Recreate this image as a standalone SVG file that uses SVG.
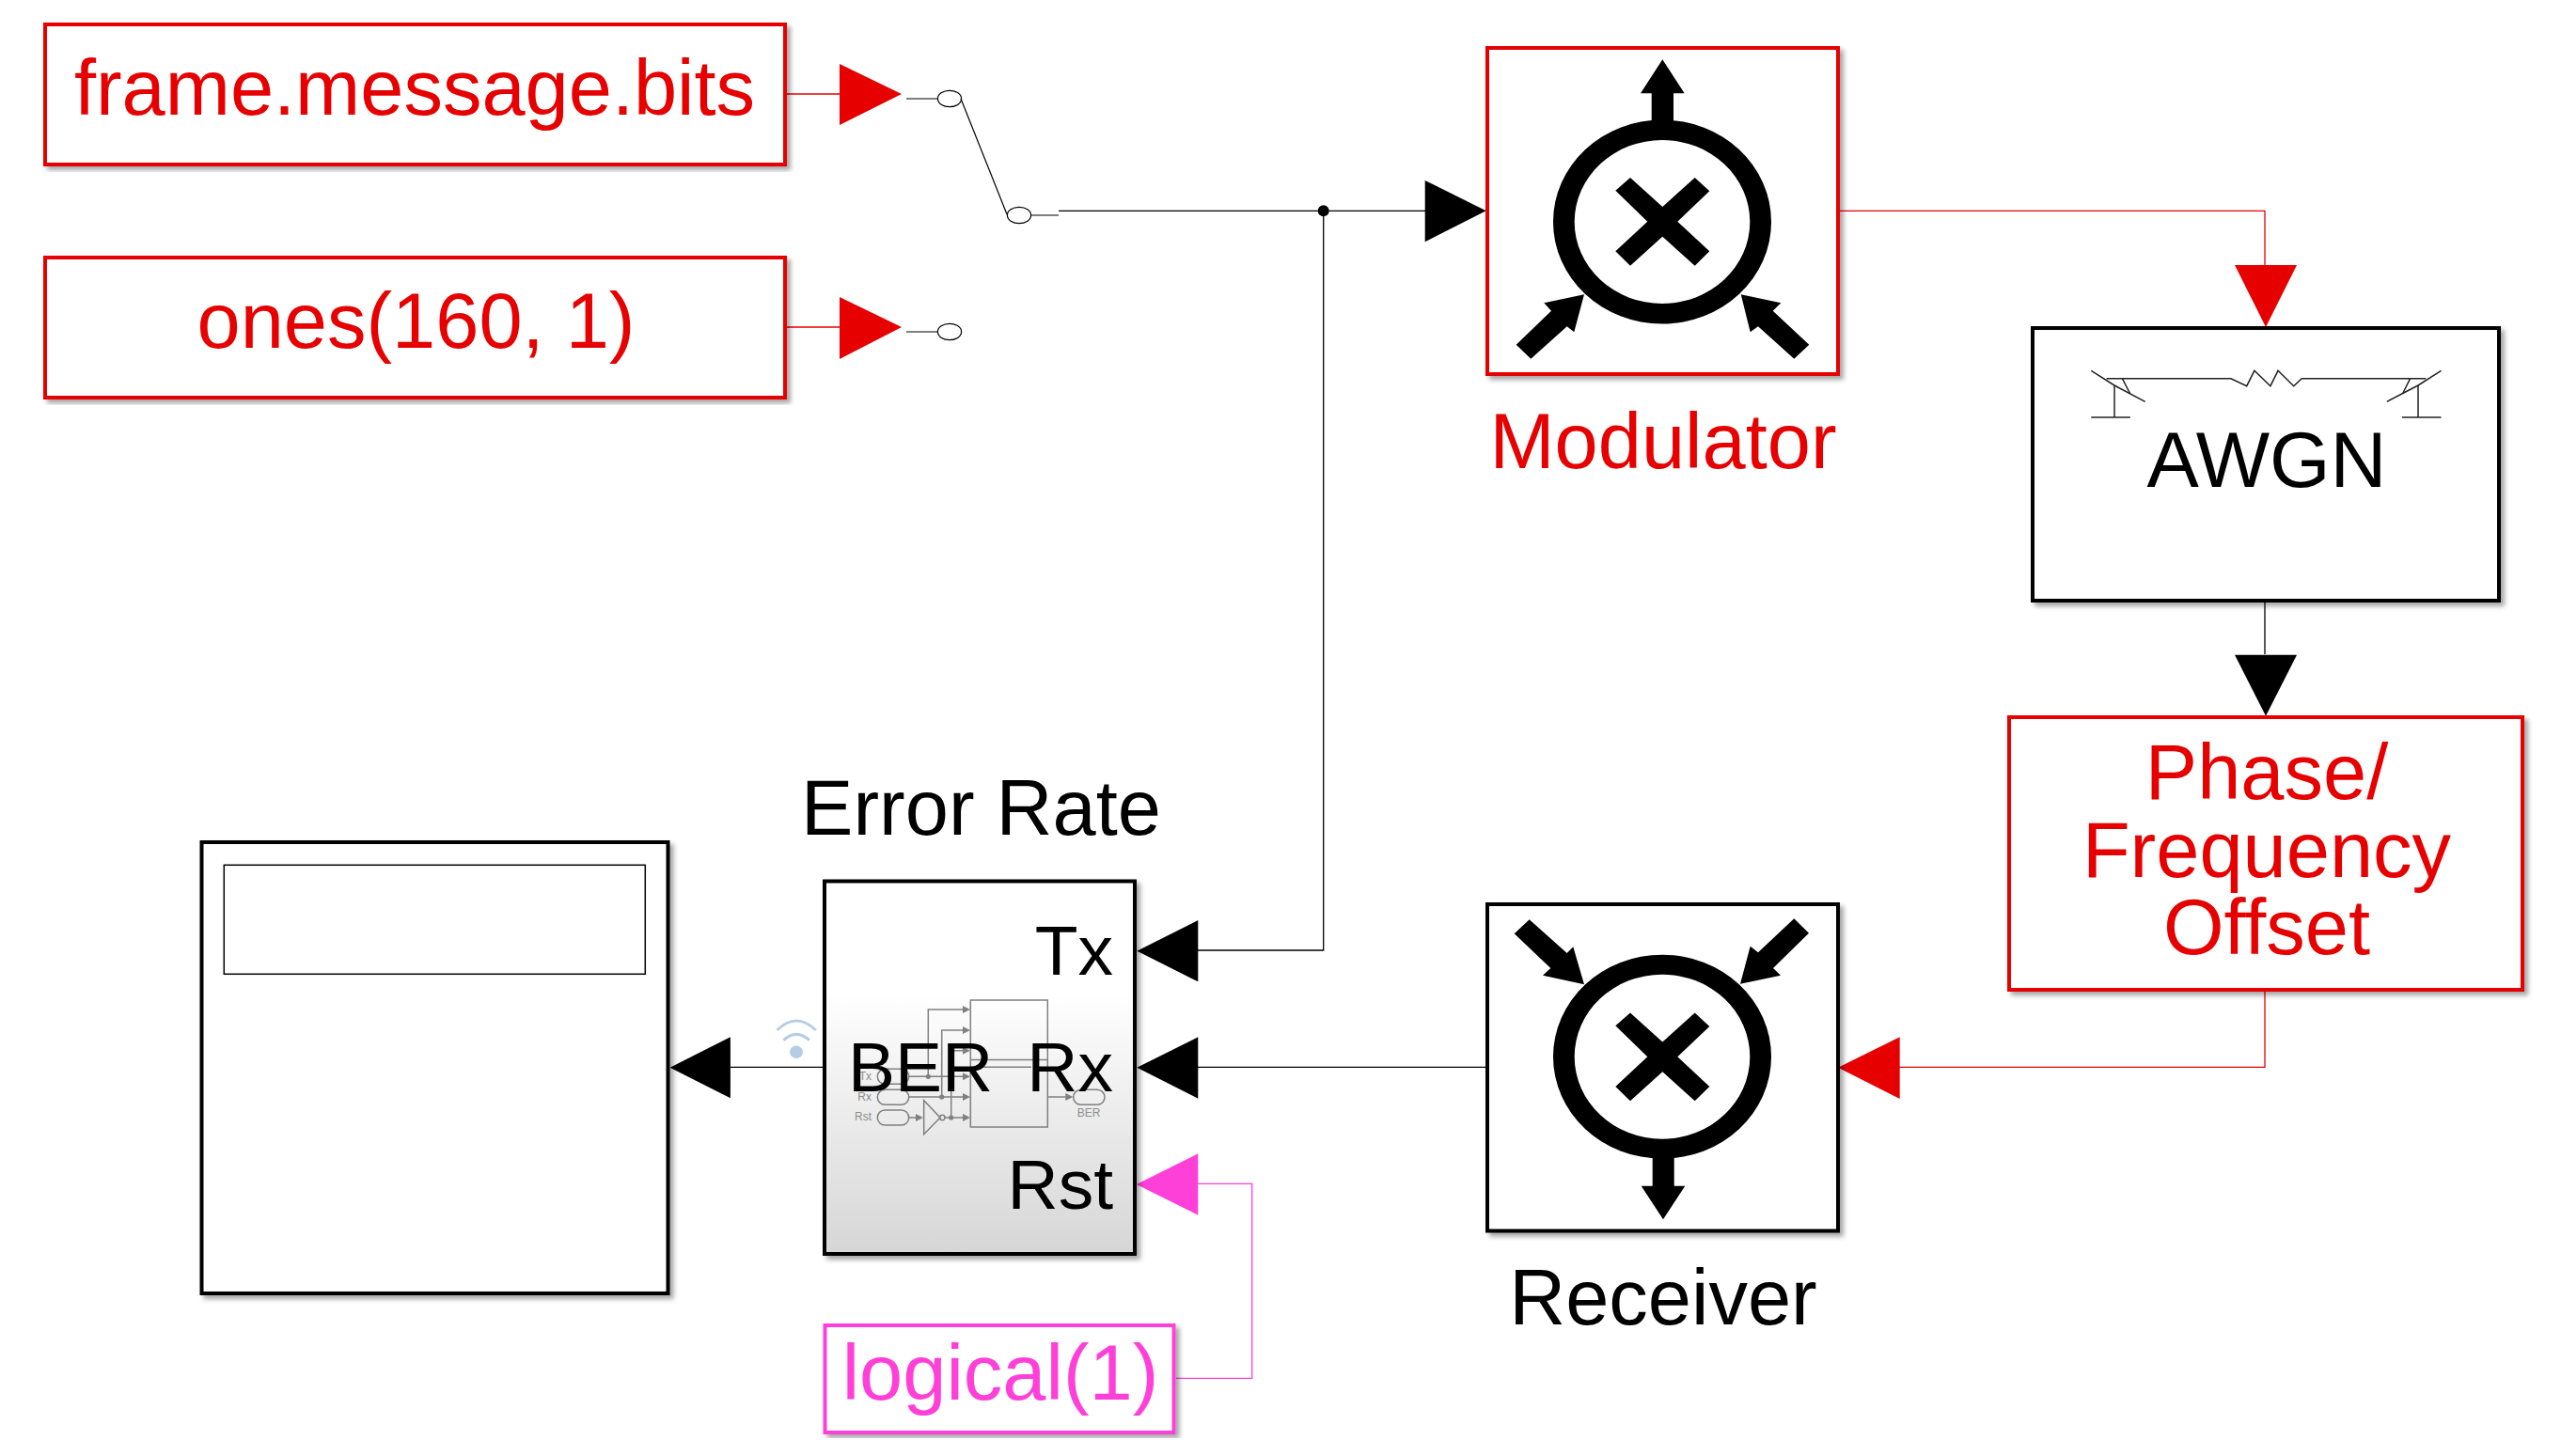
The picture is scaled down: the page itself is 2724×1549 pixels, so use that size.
<svg xmlns="http://www.w3.org/2000/svg" width="2724" height="1549" viewBox="0 0 2724 1549">
<style>
text{font-family:"Liberation Sans",Arial,sans-serif;font-size:83px;text-anchor:middle}
.k{fill:#000}.r{fill:#e60000}.p{fill:#ff40d8}
.port{font-size:75px;fill:#000}
.bk{fill:#fff;stroke:#000;stroke-width:4;filter:url(#sh)}
.br{fill:#fff;stroke:#e60000;stroke-width:4;filter:url(#sh)}
.bp{fill:#fff;stroke:#ff40d8;stroke-width:4;filter:url(#sh)}
.wk{fill:none;stroke:#000;stroke-width:1.3}
.wr{fill:none;stroke:#e60000;stroke-width:1.3}
.wp{fill:none;stroke:#ff40d8;stroke-width:1.3}
.g{fill:none;stroke:#808080;stroke-width:1.5}
.gf{fill:#808080;stroke:none}
.gt{font-size:12px;fill:#8c8c8c}
.ic{fill:none;stroke:#000;stroke-width:1.2}
.wf{fill:none;stroke:#b5cde4;stroke-width:3}
</style>
<defs>
<filter id="sh" x="-5%" y="-5%" width="110%" height="110%"><feDropShadow dx="4" dy="4" stdDeviation="2.5" flood-color="#000" flood-opacity="0.35"/></filter>
<linearGradient id="gr" x1="0" y1="0" x2="0" y2="1"><stop offset="0" stop-color="#fff"/><stop offset="0.3" stop-color="#fff"/><stop offset="1" stop-color="#d6d6d6"/></linearGradient>
</defs>

<g id="connectors">
<path class="wr" d="M836 100H893"/>
<path class="wr" d="M836 348H893"/>
<path class="wk" d="M1126 224.3H1516"/>
<path class="wk" d="M1407.7 224.3V1011H1274"/>
<path class="wr" d="M1957 224.3H2409V283"/>
<path class="wk" d="M2409 641V696"/>
<path class="wr" d="M2409 1055V1135.3H2020"/>
<path class="wk" d="M1580 1135.3H1274"/>
<path class="wk" d="M875 1135.3H777"/>
<path class="wp" d="M1251 1466.3H1331.7V1259.3H1274"/>
<circle cx="1407.7" cy="224.3" r="6" class="k"/>
<polygon class="r" points="893,68 959,100 893,133"/>
<polygon class="r" points="893,316 959,348 893,382"/>
<polygon class="k" points="1515.7,192 1580.7,224.3 1515.7,257.3"/>
<polygon class="r" points="2377,282 2443,282 2410,348"/>
<polygon class="k" points="2377,696.7 2443,696.7 2410,761.7"/>
<polygon class="r" points="2020.7,1103.3 2020.7,1169 1955,1135.7"/>
<polygon class="k" points="1274.3,979 1274.3,1044.3 1209.3,1011.7"/>
<polygon class="k" points="1274.3,1103.3 1274.3,1168.7 1209.3,1135.7"/>
<polygon class="p" points="1274.3,1227.3 1274.3,1292.7 1208.7,1260"/>
<polygon class="k" points="776.9,1103.3 776.9,1168.3 712.6,1135.7"/>
</g>

<g id="frame-message-bits">
<rect class="br" x="48" y="26" width="787" height="149"/>
<text class="r" x="441" y="121.5">frame.message.bits</text>
</g>

<g id="ones">
<rect class="br" x="48" y="274" width="787" height="149"/>
<text class="r" x="442.5" y="370">ones(160, 1)</text>
</g>

<g id="switch">
<path class="ic" d="M964 105H998M1022 105L1071 228M1097 229H1126M964 353H998"/>
<ellipse class="ic" cx="1010" cy="105" rx="12.6" ry="8.7"/>
<ellipse class="ic" cx="1084" cy="229" rx="12.6" ry="8.7"/>
<ellipse class="ic" cx="1010" cy="353" rx="12.6" ry="8.7"/>
</g>

<g id="modulator">
<rect class="br" x="1582" y="51" width="373" height="347"/>
<path class="k" fill-rule="evenodd" d="M1652 236a116 108.5 0 1 0 232 0a116 108.5 0 1 0 -232 0zM1674.7 236a93.3 87 0 1 1 186.6 0a93.3 87 0 1 1 -186.6 0z"/>
<polygon class="k" points="1734,189 1768.3,220 1802.7,189 1818.3,203.3 1784.3,235.7 1818.3,267.3 1802.7,282.7 1768.3,251.7 1734,282.7 1718.3,267.3 1752.3,235.7 1718.3,202.7"/>
<polygon class="k" points="1768.3,63.3 1745,99.3 1756.7,99.3 1756.7,130 1780,130 1780,99.3 1791.7,99.3"/>
<polygon class="k" points="1685,313.3 1642.3,322.3 1650,330.7 1612.7,366.7 1628.3,381.7 1666.7,347.3 1674.3,353.3"/>
<polygon class="k" points="1851.7,313.3 1894.3,322.3 1885.7,330.7 1924.3,366.7 1908.3,381.7 1870,347.3 1861.7,353.3"/>
<text class="r" x="1769" y="497.7">Modulator</text>
</g>

<g id="awgn">
<rect class="bk" x="2162" y="349" width="496" height="290"/>
<g fill="none" stroke="#222" stroke-width="1.5">
<path d="M2224.3 394.3L2249 410L2281.7 427.3M2596.5 394.3L2572 410L2538.8 427.3"/>
<path d="M2240.6 402.7H2373L2389.7 410.7L2397.9 394.3L2414.9 410.7L2423 394.3L2439.7 410.7L2448.2 402.7H2580.2"/>
<path d="M2257.3 402.7L2265.8 419M2563.6 402.7L2555.5 419"/>
<path d="M2249 410V444M2224.3 444H2265.8M2572 410V444M2555 444H2596.5"/>
</g>
<text class="k" x="2411" y="518.3">AWGN</text>
</g>

<g id="phase-frequency-offset">
<rect class="br" x="2137" y="763" width="546" height="290"/>
<text class="r" x="2411" y="850">Phase/</text>
<text class="r" x="2411" y="932.7">Frequency</text>
<text class="r" x="2411" y="1015">Offset</text>
</g>

<g id="receiver">
<rect class="bk" x="1582" y="962" width="373" height="347.5"/>
<path class="k" fill-rule="evenodd" d="M1652 1124.2a116 108.5 0 1 0 232 0a116 108.5 0 1 0 -232 0zM1674.7 1124.2a93.3 87.5 0 1 1 186.6 0a93.3 87.5 0 1 1 -186.6 0z"/>
<polygon class="k" points="1734,1077.6 1768.3,1108.6 1802.7,1077.6 1818.3,1091.9 1784.3,1124.3 1818.3,1155.9 1802.7,1171.3 1768.3,1140.3 1734,1171.3 1718.3,1155.9 1752.3,1124.3 1718.3,1091.3"/>
<polygon class="k" points="1769,1297.3 1745.7,1261.7 1757.7,1261.7 1757.7,1230 1780.7,1230 1780.7,1261.7 1792.3,1261.7"/>
<polygon class="k" points="1685,1047.3 1641,1037.7 1649.3,1030 1610.7,993.3 1626.7,978.3 1666.7,1014 1673.3,1007.3"/>
<polygon class="k" points="1851,1046.7 1894,1037.7 1886,1030 1924,992.7 1908.3,977.3 1870,1013.3 1861.7,1006.7"/>
<text class="k" x="1769" y="1409">Receiver</text>
</g>

<g id="error-rate">
<rect class="bk" x="877" y="937.5" width="330" height="396.5" style="fill:url(#gr)"/>
<g id="error-rate-icon">
<rect class="g" x="1032.3" y="1064" width="82" height="135"/>
<path class="g" d="M1032.3 1127.5H1114.3M1032.3 1135.3H1097"/>
<rect class="g" x="933.3" y="1137.3" width="33.4" height="16" rx="8"/>
<rect class="g" x="933.3" y="1159.3" width="33.4" height="16" rx="8"/>
<rect class="g" x="933.3" y="1181" width="33.4" height="16" rx="8"/>
<rect class="g" x="1141.7" y="1159.3" width="33.3" height="16" rx="8"/>
<path class="g" d="M966.7 1145.3H1024M966.7 1167H1024M966.7 1189H974M1005 1189H1024M1114.3 1167H1133.3"/>
<path class="g" d="M987.3 1145.3V1074H1024M1001.7 1167V1096H1024M1011.7 1189V1117.7H1024"/>
<polygon class="g" points="982.7,1170.7 982.7,1206.7 1000,1189"/>
<circle class="g" cx="1002.3" cy="1189" r="2.7"/>
<path class="gf" d="M1024 1070v8l8 -4zM1024 1092v8l8 -4zM1024 1113.7v8l8 -4zM1024 1141.3v8l8 -4zM1024 1163v8l8 -4zM1024 1185v8l8 -4zM974 1185v8l8 -4zM1133.3 1163v8l8 -4z"/>
<circle class="gf" cx="987.3" cy="1145.3" r="2.6"/>
<circle class="gf" cx="1001.7" cy="1167" r="2.6"/>
<circle class="gf" cx="1011.7" cy="1189" r="2.6"/>
<text class="gt" x="927" y="1149" style="text-anchor:end">Tx</text>
<text class="gt" x="927" y="1170.7" style="text-anchor:end">Rx</text>
<text class="gt" x="927" y="1192.3" style="text-anchor:end">Rst</text>
<text class="gt" x="1158" y="1187.7">BER</text>
</g>
<text class="port" x="1184" y="1036.5" style="text-anchor:end">Tx</text>
<text class="port" x="1184" y="1161" style="text-anchor:end">Rx</text>
<text class="port" x="1184" y="1285.5" style="text-anchor:end">Rst</text>
<text class="port" x="902" y="1161" style="text-anchor:start">BER</text>
<text class="k" x="1043.5" y="887.5">Error Rate</text>
</g>

<g id="scope">
<rect class="bk" x="214.5" y="896" width="496" height="480"/>
<rect x="238.3" y="920.3" width="448" height="116" fill="none" stroke="#000" stroke-width="1.5"/>
</g>

<g id="signal-icon">
<path class="wf" d="M826.5 1096Q847 1076 867.8 1096"/>
<path class="wf" d="M833.4 1106.7Q847 1094 860.9 1106.7"/>
<ellipse cx="847" cy="1119.3" rx="6.9" ry="6.7" fill="#b5cde4"/>
</g>

<g id="logical">
<rect class="bp" x="877.5" y="1410" width="371" height="114"/>
<text class="p" x="1064" y="1488.5">logical(1)</text>
</g>
</svg>
